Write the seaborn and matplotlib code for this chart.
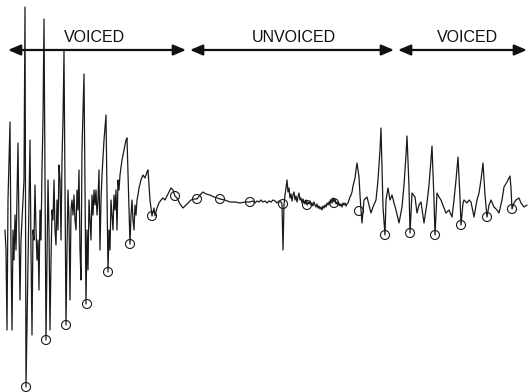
import numpy as np
import pandas as pd
import seaborn as sns
import matplotlib.pyplot as plt
from matplotlib.patches import FancyArrowPatch

# ---- data (time in samples, amplitude in arbitrary units) ----
# first voiced stretch
v1_time = [5, 6, 7, 8, 10, 11, 12, 13, 14, 15, 16, 18, 19, 20, 21, 22, 24, 25, 26,
           28, 29, 30, 31, 32, 33, 34, 35, 36, 37, 38, 39, 40, 41, 42, 43, 44, 46,
           47, 48, 49, 50, 51, 52, 53, 54, 55, 56, 57, 58, 59, 60, 61, 62, 63, 64, 66,
           67, 68, 69, 70, 71, 72, 73, 74, 75, 76, 77, 78, 79, 80, 81, 82, 83, 84, 86,
           87, 88, 89, 90, 91, 92, 93, 94, 95, 96, 97, 98, 99, 100, 101, 102, 104, 106, 108,
           109, 110, 111, 112, 113, 114, 115, 116, 117, 118, 119, 120, 122, 124, 126, 127, 130,
           131, 132, 133, 134, 135, 136, 137, 138, 139, 141, 143, 145, 147, 148, 150, 152,
           153, 154, 155, 157, 159, 161, 163, 165, 167, 169, 171, 173, 175,
           177, 180, 183, 187]
v1_amp = [-30, -50, -130, 0, 78, -50, -130, -30, -60, -15, -50, 57, -30, -100, -40, -20, 20, 193, -187,
          -60, 0, 60, -50, -135, -30, -40, 15, -30, -60, -40, -90, -10, -40, 30, 80, 181, -140,
          -60, 20, -30, -130, -60, -10, -20, 20, -30, -45, 0, -30, 35, 20, -40, 40, 80, 149, -125,
          -50, 10, -20, -100, -10, 0, -15, 5, -20, -30, 10, -10, 30, -50, -80, 50, 90, 126, -104,
          -30, -70, 0, -20, -40, 5, -15, 10, -5, 10, -15, 0, 30, -50, 0, 25, 60, 85, -72,
          -30, -50, 0, -15, -30, 5, -10, 10, -30, 20, 10, 25, 40, 50, 60, 62, -44,
          -15, 0, -20, -30, -5, -15, 0, 5, 12, 20, 25, 22, 28, 30, 0, -16,
          -12, -8, -16, -8, -3, 0, 2, 0, 4, 8, 12, 10, 4,
          2, -4, -8, -4]

# unvoiced stretch
uv_time = [191, 194, 197, 200, 203, 206, 210, 214, 220,
           225, 230, 235, 240, 245, 250, 253, 255, 257, 259, 261, 263, 265, 267,
           269, 271, 273, 275, 277, 279, 281, 282, 283, 284, 285, 286, 287,
           288, 289, 290, 291, 292, 293, 294, 295, 296, 297, 298, 299, 300, 301,
           302, 303, 304, 305, 306, 307, 308, 309, 310, 311, 312, 313, 314, 315,
           316, 317, 318, 319, 320, 321, 322, 323, 324, 325, 326, 327, 328, 329,
           330, 331, 332, 333, 334, 335, 336, 337, 338, 339, 340, 341, 342, 343,
           344, 345, 346, 347, 348, 349, 350, 351, 352, 353, 354, 355, 356]
uv_amp = [0, 1, 1, 5, 8, 6, 5, 3, 1,
          0, -2, -2, -3, -2, -2, -1, -3, -1, -2, 0, -2, -1, -3,
          -1, -2, 0, -1, -3, -1, -2, -4, -50, -5, 5, 12, 20,
          8, 12, 2, 6, -1, 5, 8, 0, 4, -2, 3, 7, 0, 2,
          -3, 1, -2, -4, 0, -5, -2, -4, -1, -5, -3, -6, -2, -5,
          -7, -4, -8, -6, -9, -7, -10, -6, -8, -5, -7, -3, -5, -2,
          -4, 0, -3, 2, -2, 1, -4, -2, -5, -3, -6, -4, -7, -3,
          -5, -3, -6, -4, -3, 0, 3, 5, 8, 14, 18, 22, 30]

# second voiced stretch
v2_time = [357, 359, 360, 361, 362, 364, 367, 369,
           371, 373, 376, 378, 380, 381, 383, 385, 386, 388, 390, 392, 394, 396, 399,
           402, 404, 406, 407, 409, 410, 412, 415, 417, 419, 421, 424, 427, 429, 431,
           432, 434, 435, 437, 439, 441, 444, 446, 449, 452, 454, 456, 458, 460, 461,
           463, 464, 467, 469, 471, 474, 477, 479, 481, 483, 485, 487, 489, 491, 494,
           497, 499, 502, 504, 507, 510, 511, 512, 514, 516, 519, 521, 524, 527]
v2_amp = [37, 23, 5, -10, -23, 0, 3, -5,
          -13, -7, 0, 20, 50, 72, -7, -35, 0, 12, 0, 5, -3, -10, -23,
          -7, 15, 45, 64, 13, -33, 7, 3, -13, -5, -2, -23, -3, 15, 40,
          54, 0, -35, 7, 3, 0, -8, -13, -10, -17, 0, 20, 43, 3, -25,
          -3, 0, -3, 0, -2, -17, 0, 7, 20, 37, 5, -17, -5, 0, -7,
          -10, -13, 0, 13, 18, 24, 12, -9, -3, 0, 2, -3, -7, -5]

# glottal closure instants (circles)
gci_time = [26, 46, 66, 87, 108, 130, 152, 175, 197, 220, 250, 283, 307, 334,
            359, 385, 410, 435, 461, 487, 512]
gci_amp = [-187, -140, -125, -104, -72, -44, -16, 4, 1, 1, -2, -4, -5, -3,
           -11, -35, -33, -35, -25, -17, -9]

# segments
seg_labels = ["VOICED", "UNVOICED", "VOICED"]
seg_start = [8, 190, 398]
seg_end = [186, 394, 527]

# ---- plot ----
sns.set_theme(style="white")
plt.rcParams['font.family'] = ['Liberation Sans', 'DejaVu Sans']

fig = plt.figure(figsize=(5.28, 3.92), dpi=100)
ax = fig.add_axes([0, 0, 1, 1])

df = pd.DataFrame({"time": v1_time + uv_time + v2_time,
                   "amplitude": v1_amp + uv_amp + v2_amp})
sns.lineplot(data=df, x="time", y="amplitude", estimator=None, sort=False,
             color="#1a1a1a", linewidth=0.9, ax=ax)

sns.scatterplot(x=gci_time, y=gci_amp, marker="o", s=42, facecolor="none",
                edgecolor="#1a1a1a", linewidth=0.8, ax=ax, zorder=3)

arrow_y = 150
label_y = 162
label_x = [94, 294, 467]
for lab, s, e, lx in zip(seg_labels, seg_start, seg_end, label_x):
    arr = FancyArrowPatch((s, arrow_y), (e, arrow_y),
                          arrowstyle="<|-|>,head_length=0.75,head_width=0.32",
                          mutation_scale=10, lw=1.6, color="#111111",
                          shrinkA=0, shrinkB=0, zorder=4)
    ax.add_patch(arr)
    ax.text(lx, label_y, lab, ha="center", va="center", fontsize=11.5,
            color="#111111")

ax.set_xlim(0, 528)
ax.set_ylim(-192, 200)
ax.axis("off")

fig.savefig("out.png", dpi=100, facecolor="white")
